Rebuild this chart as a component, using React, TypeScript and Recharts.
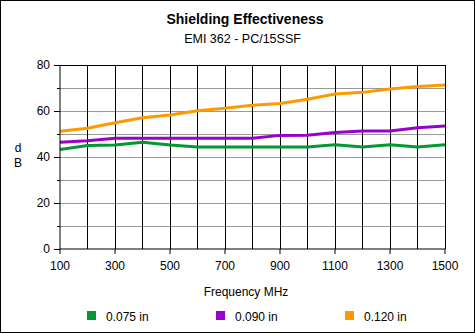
import { LineChart, Line, XAxis, YAxis, ReferenceLine, Label } from "recharts";

const frequencies = [100, 200, 300, 400, 500, 600, 700, 800, 900, 1000, 1100, 1200, 1300, 1400, 1500];
const in075 = [43.3, 45.0, 45.2, 46.4, 45.2, 44.3, 44.3, 44.3, 44.3, 44.3, 45.3, 44.3, 45.3, 44.3, 45.3];
const in090 = [46.4, 47.1, 48.1, 48.1, 48.1, 48.1, 48.1, 48.2, 49.4, 49.5, 50.6, 51.3, 51.3, 52.7, 53.5];
const in120 = [51.2, 52.5, 54.9, 57.1, 58.3, 60.1, 61.2, 62.5, 63.3, 65.1, 67.4, 68.1, 69.6, 70.6, 71.3];

const xTicks = [100, 300, 500, 700, 900, 1100, 1300, 1500];
const xGrid = [200, 300, 400, 500, 600, 700, 800, 900, 1000, 1100, 1200, 1300, 1400, 1500];
const yTicks = [0, 10, 20, 30, 40, 50, 60, 70, 80];
const yGrid = [10, 20, 30, 40, 50, 60, 70];

const series = [
    { key: "a", name: "0.075 in", color: "#009933" },
    { key: "b", name: "0.090 in", color: "#9900cc" },
    { key: "c", name: "0.120 in", color: "#ff9900" },
];

const data = frequencies.map((f, i) => ({
    freq: f,
    a: in075[i],
    b: in090[i],
    c: in120[i],
}));

const FONT = '"Liberation Sans", Arial, sans-serif';

const YTick = ({ y, payload }: any) => {
    const major = payload.value % 20 === 0;
    return (
        <g>
            <line x1={major ? 54 : 57} x2={60} y1={y} y2={y} stroke="#000" shapeRendering="crispEdges" />
            {major && (
                <text x={50} y={y + 4} textAnchor="end" fontSize={12} fill="#000" fontFamily={FONT}>
                    {payload.value}
                </text>
            )}
        </g>
    );
};

const YLabel = () => (
    <g>
        <text x={18} y={152} textAnchor="middle" fontSize={12} fill="#000" fontFamily={FONT}>d</text>
        <text x={18} y={167} textAnchor="middle" fontSize={12} fill="#000" fontFamily={FONT}>B</text>
    </g>
);

const XLabel = () => (
    <text x={246} y={296} textAnchor="middle" fontSize={12} fill="#000" fontFamily={FONT}>
        Frequency MHz
    </text>
);

// legend drawn outside the chart so it doesn't eat plot height
const ChartLegend = () => {
    const starts = [87, 216, 345];
    return (
        <svg width={475} height={20} style={{ position: "absolute", left: 0, top: 305, display: "block" }}>
            {series.map((s, i) => (
                <g key={s.key}>
                    <rect x={starts[i]} y={6} width={9} height={9} fill={s.color} />
                    <text x={starts[i] + 19} y={15.5} fontSize={12} fill="#000" fontFamily={FONT}>
                        {s.name}
                    </text>
                </g>
            ))}
        </svg>
    );
};

export default function App() {
    return (
        <div
            style={{
                position: "absolute",
                left: 0,
                top: 0,
                width: 475,
                height: 333,
                background: "#fff",
                fontFamily: FONT,
            }}
        >
            <div style={{ position: "absolute", left: 0, top: 11, width: 490, textAlign: "center", fontSize: 14, fontWeight: "bold" }}>
                Shielding Effectiveness
            </div>
            <div style={{ position: "absolute", left: 0, top: 32, width: 485, textAlign: "center", fontSize: 12.5 }}>
                EMI 362 - PC/15SSF
            </div>
            <LineChart
                width={475}
                height={333}
                data={data}
                margin={{ top: 65, right: 30, bottom: 54, left: 0 }}
                style={{ position: "absolute", left: 0, top: 0 }}
            >
                {yGrid.map((v) => (
                    <ReferenceLine key={`h${v}`} y={v} stroke="#999999" strokeWidth={1} shapeRendering="crispEdges" />
                ))}
                {xGrid.map((f) => (
                    <ReferenceLine key={`v${f}`} x={f} stroke="#000" strokeWidth={1} shapeRendering="crispEdges" />
                ))}
                <ReferenceLine y={80} stroke="#000" strokeWidth={1} shapeRendering="crispEdges" />
                <XAxis
                    type="number"
                    dataKey="freq"
                    domain={[100, 1500]}
                    ticks={xTicks}
                    interval={0}
                    height={30}
                    tickSize={5}
                    tickMargin={7}
                    stroke="#000"
                    tick={{ fill: "#000", fontSize: 12, fontFamily: FONT }}
                >
                    <Label content={<XLabel />} />
                </XAxis>
                <YAxis
                    type="number"
                    domain={[0, 80]}
                    ticks={yTicks}
                    interval={0}
                    width={60}
                    tickLine={false}
                    stroke="#000"
                    tick={<YTick />}
                >
                    <Label content={<YLabel />} />
                </YAxis>
                {series.map((s) => (
                    <Line
                        key={s.key}
                        type="linear"
                        dataKey={s.key}
                        name={s.name}
                        stroke={s.color}
                        strokeWidth={3}
                        dot={false}
                        isAnimationActive={false}
                    />
                ))}
            </LineChart>
            <ChartLegend />
            <div
                style={{
                    position: "absolute",
                    left: 0,
                    top: 0,
                    width: 475,
                    height: 333,
                    boxSizing: "border-box",
                    border: "1px solid #000",
                    pointerEvents: "none",
                }}
            />
        </div>
    );
}
